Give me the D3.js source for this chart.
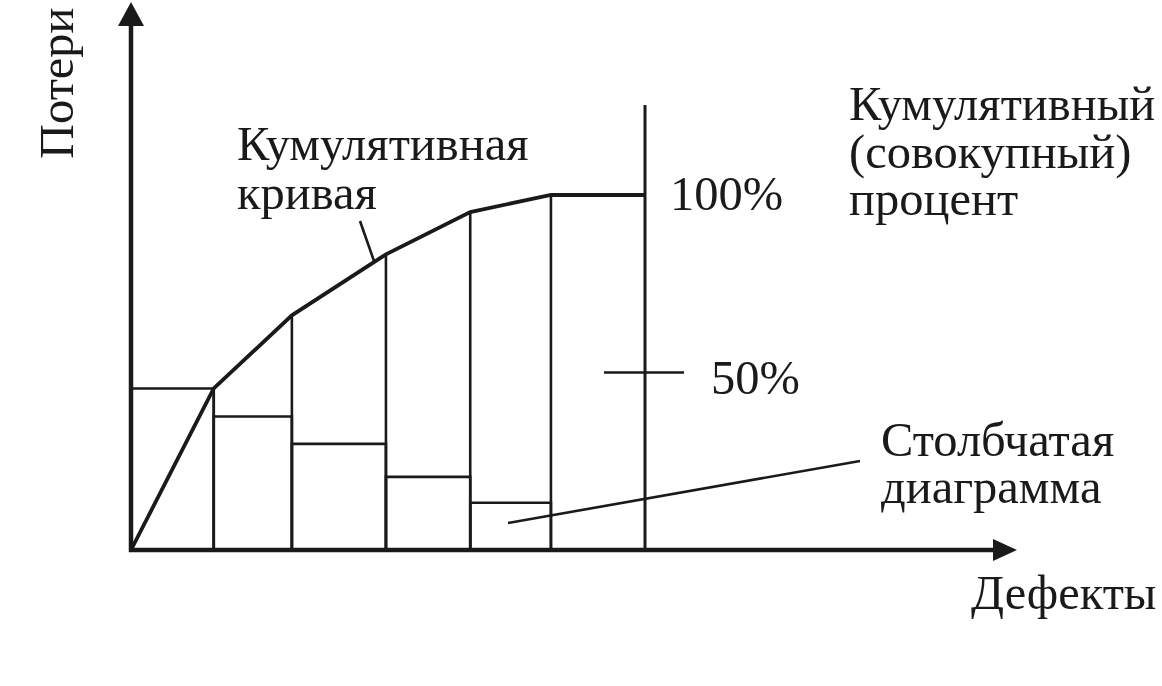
<!DOCTYPE html>
<html>
<head>
<meta charset="utf-8">
<script src="https://cdn.jsdelivr.net/npm/d3@7"></script>
<style>
  html, body { margin: 0; padding: 0; background: #fff; }
  svg { display: block; }
  text { font-family: "Liberation Serif", "Times New Roman", serif; fill: #1a1a1a; }
</style>
</head>
<body>
<svg id="chart" width="1162" height="686"></svg>
<script>
// Category boundaries along the defect axis (share of the axis, %)
const barEdges = [0, 16.1, 31.3, 49.6, 66.0, 81.7];
const barEnds = [16.1, 31.3, 49.6, 66.0, 81.7, 100];
// Losses per category, % of total
const barValues = [45.5, 37.6, 29.9, 20.6, 13.3, 0];
// Cumulative curve points: position on the defect axis and cumulative %
const cumX = [0, 16.1, 31.3, 49.6, 66.0, 81.7, 100];
const cumY = [0, 45.5, 66.1, 83.3, 95.2, 100, 100];
// Right-axis marks
const pctTicks = [50, 100];
const pctLabels = ["50%", "100%"];

const ink = "#1a1a1a";
const fs = 48.5;
const svg = d3.select("#chart");

const x0 = 131, y0 = 550;
const x = d3.scaleLinear().domain([0, 100]).range([x0, 645]);
const y = d3.scaleLinear().domain([0, 100]).range([y0, 195]);

// Bars: outlined rectangles
const bars = barValues.map((v, i) => ({ a: barEdges[i], b: barEnds[i], v }));
svg.append("g").selectAll("path").data(bars.filter(d => d.v > 0)).join("path")
  .attr("d", d => `M${x(d.a)},${y0}V${y(d.v)}H${x(d.b)}V${y0}`)
  .attr("fill", "none").attr("stroke", ink).attr("stroke-width", 2.6);

// Vertical dividers reaching up to the cumulative curve
svg.append("g").selectAll("line").data(cumX.slice(1, -1)).join("line")
  .attr("x1", d => x(d)).attr("x2", d => x(d))
  .attr("y1", y0).attr("y2", (d, i) => y(cumY[i + 1]))
  .attr("stroke", ink).attr("stroke-width", 2.6);

// Cumulative curve
const pts = cumX.map((d, i) => [d, cumY[i]]);
svg.append("path").datum(pts)
  .attr("d", d3.line().x(d => x(d[0])).y(d => y(d[1])))
  .attr("fill", "none").attr("stroke", ink).attr("stroke-width", 3.8)
  .attr("stroke-linejoin", "miter");

// Right percent axis
svg.append("line")
  .attr("x1", x(100)).attr("x2", x(100)).attr("y1", 105).attr("y2", y0)
  .attr("stroke", ink).attr("stroke-width", 3);

// 50% tick crossing the axis
svg.append("line")
  .attr("x1", x(100) - 41).attr("x2", x(100) + 39)
  .attr("y1", y(pctTicks[0])).attr("y2", y(pctTicks[0]))
  .attr("stroke", ink).attr("stroke-width", 2.6);

// Percent labels
svg.append("text").attr("x", 711).attr("y", y(pctTicks[0]) + 21)
  .attr("font-size", fs).text(pctLabels[0]);
svg.append("text").attr("x", 670).attr("y", y(pctTicks[1]) + 15)
  .attr("font-size", fs).text(pctLabels[1]);

// Main axes with arrowheads
svg.append("line").attr("x1", x0).attr("x2", x0).attr("y1", y0 + 2).attr("y2", 24)
  .attr("stroke", ink).attr("stroke-width", 4.5);
svg.append("path").attr("d", `M${x0},2L${x0 - 13},26L${x0 + 13},26Z`).attr("fill", ink);
svg.append("line").attr("x1", x0 - 2).attr("x2", 996).attr("y1", y0).attr("y2", y0)
  .attr("stroke", ink).attr("stroke-width", 4.5);
svg.append("path").attr("d", `M1017,${y0}L993,${y0 - 11}L993,${y0 + 11}Z`).attr("fill", ink);

// Leader lines
svg.append("line").attr("x1", 360).attr("y1", 221).attr("x2", 374).attr("y2", 261)
  .attr("stroke", ink).attr("stroke-width", 2.6);
svg.append("line").attr("x1", 508).attr("y1", 523).attr("x2", 860).attr("y2", 461)
  .attr("stroke", ink).attr("stroke-width", 2.6);

// Text annotations, one text element per line
function block(tx, lines, ty, lh) {
  lines.forEach((s, i) => svg.append("text").attr("font-size", fs)
    .attr("x", tx).attr("y", ty + i * lh).text(s));
}
block(237, ["Кумулятивная", "кривая"], 160, 49);
block(849, ["Кумулятивный", "(совокупный)", "процент"], 120, 47.5);
block(881, ["Столбчатая", "диаграмма"], 456, 46.5);
svg.append("text").attr("x", 971).attr("y", 609).attr("font-size", fs).text("Дефекты");
svg.append("text").attr("transform", "translate(73,159) rotate(-90)")
  .attr("font-size", fs).text("Потери");
</script>
</body>
</html>
